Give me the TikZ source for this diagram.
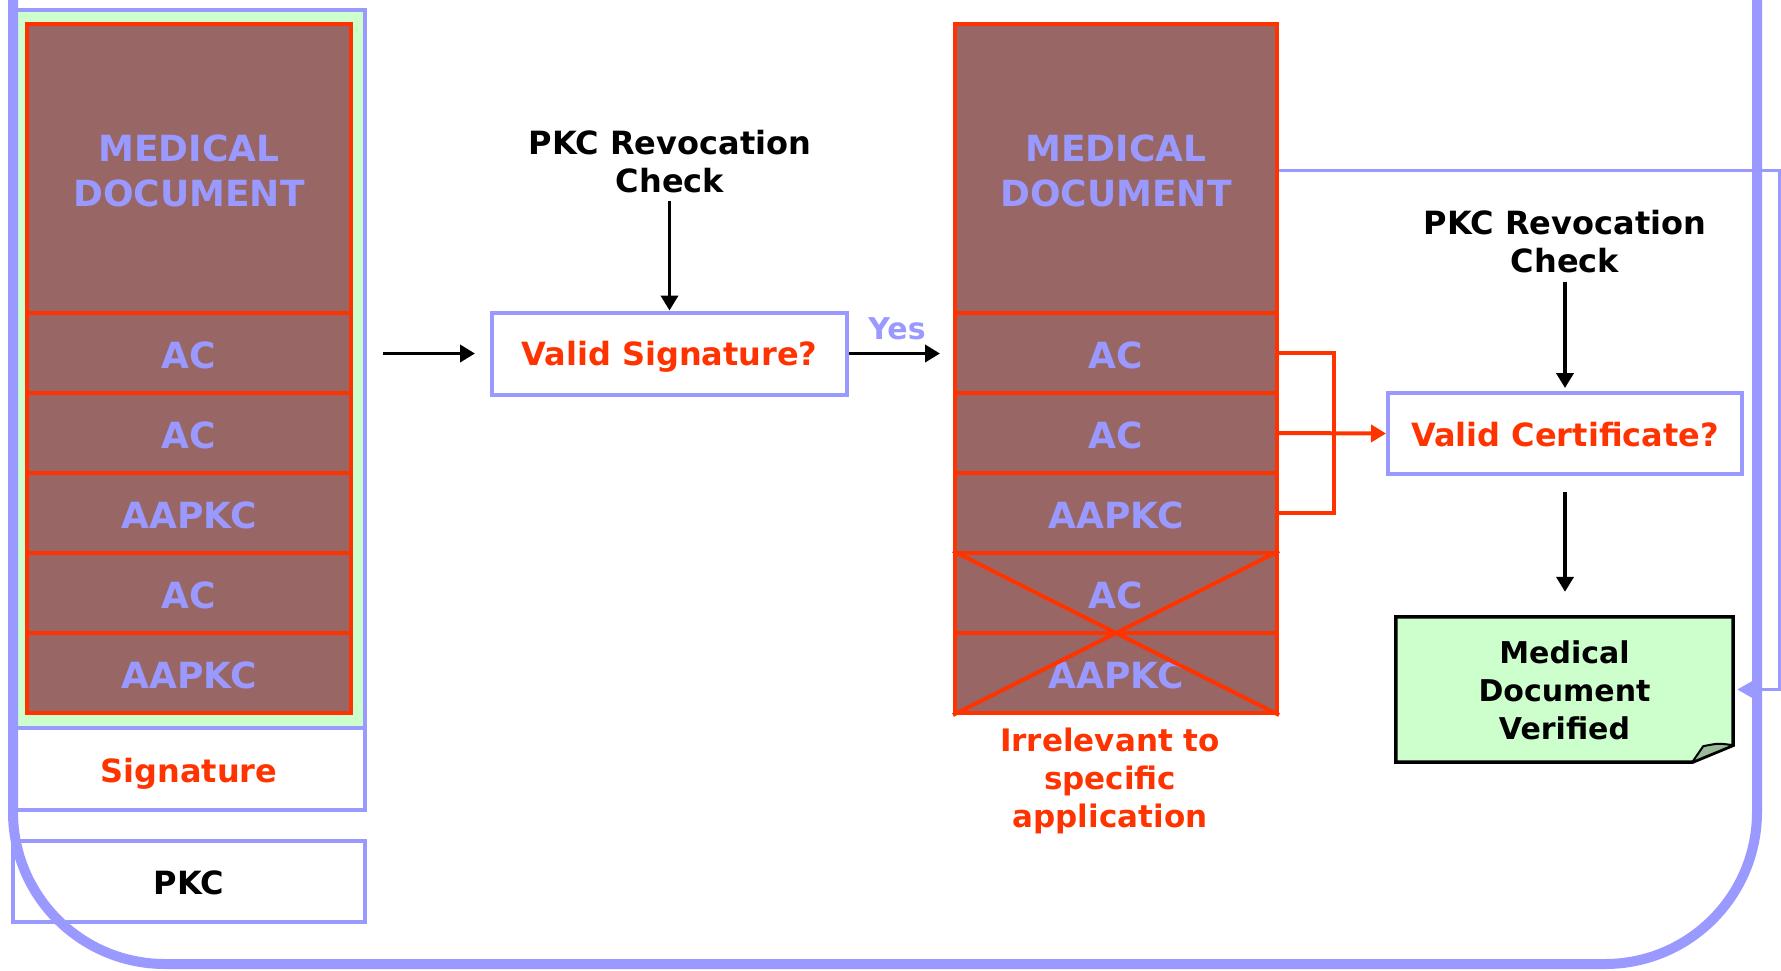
\documentclass[tikz,border=0pt]{standalone}
\usepackage{fontspec}
\setmainfont{DejaVu Sans}
\usetikzlibrary{arrows.meta,backgrounds}
\definecolor{mybrown}{HTML}{996666}
\definecolor{myred}{HTML}{FF3300}
\definecolor{mylav}{HTML}{9999FF}
\definecolor{mygreen}{HTML}{CCFFCC}
\definecolor{myfold}{HTML}{99BB99}
\newcommand{\fbig}{\fontsize{36}{45}\selectfont\bfseries}
\newcommand{\fmid}{\fontsize{32}{38}\selectfont\bfseries}
\newcommand{\fsml}{\fontsize{30}{38}\selectfont\bfseries}
\newcommand{\dn}[2]{\raisebox{-#1pt}[\height][\depth]{#2}}
\newcommand{\medoc}{\dn{6.5}{\begin{tabular}{@{}c@{}}MEDICAL\\DOCUMENT\end{tabular}}}
\begin{document}
\begin{tikzpicture}[x=1pt,y=-1pt,
  docsec/.style={draw=myred, fill=mybrown, line width=4pt, minimum width=324pt, minimum height=80pt, inner sep=0pt, text=mylav, font=\fbig, align=center},
  lavbox/.style={draw=mylav, line width=4pt, inner sep=0pt, align=center, font=\fmid},
  arr/.style={-{Triangle[length=15pt,width=17pt]}, line width=3.8pt, draw=black},
  redln/.style={draw=myred, line width=4pt},
  lbl/.style={align=center, font=\fmid}]
\useasboundingbox (0,0) rectangle (1781,970);
\clip (0,0) rectangle (1781,970);
% left column
\node[lavbox, fill=mygreen, minimum width=352pt, minimum height=718pt] (LG) at (189,369) {};
\node[lavbox, fill=white, minimum width=352pt, minimum height=82pt, text=myred] (SIG) at (189,769) {\dn{5}{Signature}};
\node[lavbox, fill=white, minimum width=352pt, minimum height=81pt, text=black] (PKC) at (189,881.5) {\dn{1}{PKC}};
\node[docsec, minimum height=289pt] (L0) at (189,168.5) {\medoc};
\node[docsec] (L1) at (189,353) {\dn{2}{AC}};
\node[docsec] (L2) at (189,433) {\dn{2}{AC}};
\node[docsec] (L3) at (189,513) {\dn{2}{AAPKC}};
\node[docsec] (L4) at (189,593) {\dn{2}{AC}};
\node[docsec] (L5) at (189,673) {\dn{2}{AAPKC}};
% right document
\node[docsec, minimum width=322pt, minimum height=289pt] (R0) at (1116,168.5) {\medoc};
\node[docsec, minimum width=322pt] (R1) at (1116,353) {\dn{2}{AC}};
\node[docsec, minimum width=322pt] (R2) at (1116,433) {\dn{2}{AC}};
\node[docsec, minimum width=322pt] (R3) at (1116,513) {\dn{2}{AAPKC}};
\node[docsec, minimum width=322pt] (R4) at (1116,593) {\dn{2}{AC}};
\node[docsec, minimum width=322pt] (R5) at (1116,673) {\dn{2}{AAPKC}};
\draw[redln] (R4.north west) -- (R5.south east) (R5.south west) -- (R4.north east);
\node[lbl, text=myred, font=\fontsize{31}{38}\selectfont\bfseries] (IR) at (1110,781) {Irrelevant to\\specific\\application};
% valid signature
\node[lavbox, fill=white, minimum width=355pt, minimum height=82pt, text=myred] (VS) at (669.5,353.5) {\dn{3.5}{Valid Signature?}};
\node[lbl] (P1) at (670,162) {PKC Revocation\\Check};
\draw[arr, shorten <=4pt] (VS.north |- P1.south) -- (VS.north);
\draw[arr, shorten <=16pt, shorten >=15pt] (LG.east |- VS.west) -- (VS.west);
\draw[arr, shorten >=13pt] (VS.east) -- (VS.east -| R1.west);
\node[font=\fsml, text=mylav] (YES) at (897,329) {Yes};
% valid certificate
\node[lavbox, fill=white, minimum width=354pt, minimum height=81pt, text=myred] (VC) at (1565,433.5) {\dn{1.5}{Valid Certificate?}};
\node[lbl] (P2) at (1565,242) {PKC Revocation\\Check};
\draw[arr, shorten <=5pt, shorten >=3pt] (VC.north |- P2.south) -- (VC.north);
\draw[redln] (R1.east) -- ++(55,0) |- (R3.east);
\draw[redln, -{Triangle[length=15pt,width=17pt]}] (R2.east) -- (VC.west);
% verified
\node[align=center, font=\fsml, minimum width=337pt, minimum height=145pt, inner sep=0pt] (MDV) at (1564.5,689.5) {\dn{4}{\begin{tabular}{@{}c@{}}Medical\\Document\\Verified\end{tabular}}};
\begin{scope}[on background layer]
\filldraw[fill=mygreen, draw=black, line width=3.5pt, line join=miter] (MDV.north west) -- (MDV.north east) -- ([yshift=17pt]MDV.south east) -- ([xshift=-41pt]MDV.south east) -- (MDV.south west) -- cycle;
\filldraw[fill=myfold, draw=black, line width=2pt, line join=round] ([xshift=-41pt]MDV.south east) -- ([xshift=-30pt,yshift=16pt]MDV.south east) .. controls ([xshift=-15pt,yshift=19pt]MDV.south east) .. ([yshift=17pt]MDV.south east) -- cycle;
\end{scope}
\draw[arr, shorten <=16pt, shorten >=25pt] (VC.south) -- (VC.south |- MDV.north);
% thin lavender connector
\coordinate (TR) at (1779,170);
\draw[draw=mylav, line width=3pt, -{Triangle[length=15pt,width=16pt]}, shorten >=4pt] (R0.east |- TR) -- (TR) |- (MDV.east);
% outer frame
\draw[mylav, line width=10pt, rounded corners=152pt] (13,-400) -- (13,964) -- (1757,964) -- (1757,-400);
\end{tikzpicture}
\end{document}
